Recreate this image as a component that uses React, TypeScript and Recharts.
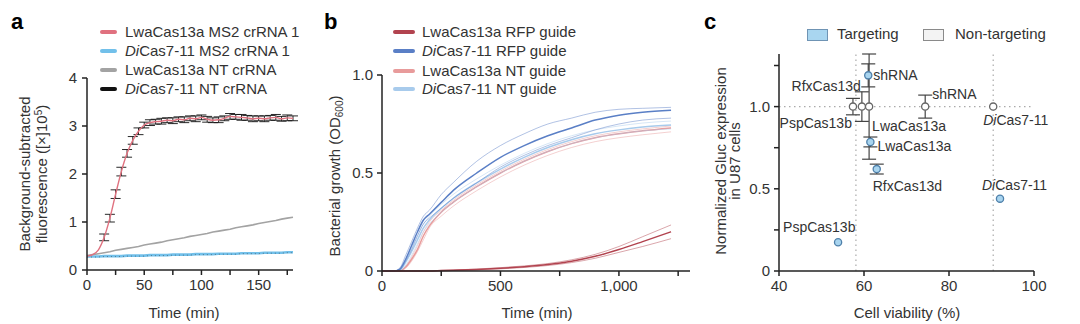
import React from 'react';
import {
  LineChart,
  Line,
  XAxis,
  YAxis,
  ErrorBar,
  ScatterChart,
  Scatter,
  ReferenceLine,
} from 'recharts';

const FONT = '"Liberation Sans", Arial, Helvetica, sans-serif';
const TEXT = '#333';
const AXIS = '#222';

// ---------------- Panel a data ----------------
const timeA = [0, 5, 10, 15, 20, 25, 30, 35, 40, 45, 50, 55, 60, 65, 70, 75, 80, 85, 90, 95, 100, 105, 110, 115, 120, 125, 130, 135, 140, 145, 150, 155, 160, 165, 170, 175, 180];
const namesA = ['LwaCas13a MS2 crRNA 1', 'DiCas7-11 MS2 crRNA 1', 'LwaCas13a NT crRNA', 'DiCas7-11 NT crRNA'];
const lwaMs2A = [0.29, 0.32, 0.42, 0.68, 1.08, 1.58, 2.05, 2.43, 2.7, 2.89, 3.02, 3.07, 3.09, 3.1, 3.12, 3.11, 3.14, 3.13, 3.16, 3.15, 3.18, 3.14, 3.12, 3.13, 3.16, 3.2, 3.19, 3.18, 3.17, 3.15, 3.16, 3.15, 3.17, 3.18, 3.15, 3.17, 3.16];
const lwaMs2ErrA = [0, 0, 0, 0.07, 0.08, 0.09, 0.09, 0.08, 0.08, 0.07, 0.06, 0.06, 0.05, 0.06, 0.05, 0.06, 0.05, 0.06, 0.05, 0.06, 0.05, 0.06, 0.05, 0.06, 0.05, 0.06, 0.05, 0.06, 0.05, 0.06, 0.05, 0.06, 0.05, 0.06, 0.05, 0.06, 0.05];
const diMs2A = [0.28, 0.28, 0.28, 0.29, 0.29, 0.29, 0.29, 0.3, 0.3, 0.3, 0.3, 0.31, 0.31, 0.31, 0.31, 0.32, 0.32, 0.32, 0.32, 0.33, 0.33, 0.33, 0.33, 0.34, 0.34, 0.34, 0.34, 0.35, 0.35, 0.35, 0.35, 0.36, 0.36, 0.36, 0.36, 0.37, 0.37];
const lwaNtA = [0.3, 0.32, 0.34, 0.36, 0.38, 0.41, 0.43, 0.45, 0.47, 0.49, 0.52, 0.54, 0.56, 0.58, 0.61, 0.63, 0.65, 0.67, 0.7, 0.72, 0.74, 0.76, 0.79, 0.81, 0.83, 0.85, 0.88, 0.9, 0.92, 0.94, 0.97, 0.99, 1.01, 1.03, 1.06, 1.08, 1.1];
const diNtA = [0.27, 0.27, 0.27, 0.28, 0.28, 0.28, 0.28, 0.29, 0.29, 0.29, 0.29, 0.3, 0.3, 0.3, 0.3, 0.31, 0.31, 0.31, 0.31, 0.32, 0.32, 0.32, 0.32, 0.33, 0.33, 0.33, 0.33, 0.34, 0.34, 0.34, 0.34, 0.35, 0.35, 0.35, 0.35, 0.36, 0.36];
const xTicksA = [0, 25, 50, 75, 100, 125, 150, 175];
const yTicksA = [0, 1, 2, 3, 4];

// ---------------- Panel b data ----------------
const timeB = [0, 50, 75, 100, 125, 150, 175, 200, 250, 300, 400, 500, 600, 700, 800, 900, 1000, 1100, 1220];
const namesB = ['LwaCas13a RFP guide', 'DiCas7-11 RFP guide', 'LwaCas13a NT guide', 'DiCas7-11 NT guide'];
const diRfpMean = [0, 0, 0.01, 0.06, 0.13, 0.2, 0.26, 0.29, 0.35, 0.41, 0.5, 0.58, 0.64, 0.69, 0.73, 0.77, 0.795, 0.81, 0.82];
const diRfpHi = [0, 0, 0.015, 0.08, 0.15, 0.22, 0.28, 0.31, 0.39, 0.45, 0.56, 0.64, 0.7, 0.75, 0.78, 0.81, 0.825, 0.83, 0.835];
const diRfpLo = [0, 0, 0.005, 0.05, 0.11, 0.18, 0.24, 0.27, 0.32, 0.37, 0.45, 0.53, 0.59, 0.64, 0.68, 0.72, 0.75, 0.77, 0.78];
const diNtMean = [0, 0, 0.005, 0.045, 0.1, 0.16, 0.22, 0.26, 0.32, 0.37, 0.45, 0.52, 0.58, 0.63, 0.67, 0.7, 0.72, 0.735, 0.745];
const diNtHi = [0, 0, 0.01, 0.06, 0.12, 0.18, 0.24, 0.28, 0.34, 0.39, 0.47, 0.54, 0.6, 0.65, 0.69, 0.72, 0.74, 0.755, 0.765];
const diNtLo = [0, 0, 0, 0.03, 0.08, 0.14, 0.2, 0.24, 0.3, 0.35, 0.43, 0.5, 0.56, 0.61, 0.65, 0.68, 0.7, 0.715, 0.725];
const lwaNtMean = [0, 0, 0, 0.02, 0.06, 0.11, 0.18, 0.23, 0.3, 0.35, 0.43, 0.5, 0.56, 0.61, 0.65, 0.68, 0.7, 0.715, 0.73];
const lwaNtHi = [0, 0, 0, 0.025, 0.07, 0.13, 0.2, 0.25, 0.31, 0.36, 0.44, 0.51, 0.57, 0.62, 0.66, 0.69, 0.71, 0.725, 0.74];
const lwaNtLo = [0, 0, 0, 0.015, 0.05, 0.1, 0.16, 0.22, 0.28, 0.33, 0.41, 0.48, 0.54, 0.59, 0.63, 0.66, 0.68, 0.695, 0.71];
const lwaRfpMean = [0, 0, 0, 0, 0, 0, 0, 0, 0.002, 0.004, 0.008, 0.014, 0.022, 0.033, 0.05, 0.075, 0.11, 0.15, 0.2];
const lwaRfpHi = [0, 0, 0, 0, 0, 0, 0, 0, 0.003, 0.005, 0.01, 0.017, 0.026, 0.038, 0.057, 0.085, 0.125, 0.175, 0.235];
const lwaRfpLo = [0, 0, 0, 0, 0, 0, 0, 0, 0.001, 0.003, 0.006, 0.011, 0.018, 0.028, 0.043, 0.065, 0.095, 0.125, 0.165];
const xTicksB = [0, 250, 500, 750, 1000, 1250];
const xLabelsB: Record<number, string> = { 0: '0', 500: '500', 1000: '1,000' };
const yTicksB = [0, 0.5, 1];
const yLabelsB: Record<number, string> = { 0: '0', 0.5: '0.5', 1: '1.0' };

// ---------------- Panel c data ----------------
const targetingIds = ['shT', 'lwaT', 'rfxT', 'diT', 'pspT'];
const targetingNames = ['shRNA', 'LwaCas13a', 'RfxCas13d', 'DiCas7-11', 'PspCas13b'];
const targetingViability = [61.0, 61.5, 63.0, 92.0, 53.9];
const targetingExpression = [1.19, 0.785, 0.62, 0.44, 0.175];
const targetingErr = [0.07, 0.03, 0.03, 0, 0];

const ntIds = ['pspN', 'rfxN', 'lwaN', 'shN', 'diN'];
const ntNames = ['PspCas13b', 'RfxCas13d', 'LwaCas13a', 'shRNA', 'DiCas7-11'];
const ntViability = [57.4, 59.5, 61.2, 74.4, 90.4];
const ntExpression = [1.0, 1.0, 1.0, 1.0, 1.0];
const ntErr = [0.05, 0.09, 0.32, 0.07, 0];

const viabilityGuides = [58.1, 90.4];
const xTicksC = [40, 60, 80, 100];
const yTicksC = [0, 0.25, 0.5, 0.75, 1, 1.25];
const yLabelsC: Record<number, string> = { 0: '0', 0.5: '0.5', 1: '1.0' };

// label placement (pixel offsets from the point)
const labelPlacement: Record<string, { dx: number; dy: number; anchor: 'start' | 'end' | 'middle' }> = {
  shT: { dx: 5, dy: 5, anchor: 'start' },
  lwaT: { dx: 7, dy: 9, anchor: 'start' },
  rfxT: { dx: -4, dy: 22, anchor: 'start' },
  diT: { dx: -18, dy: -9, anchor: 'start' },
  pspT: { dx: -55, dy: -10, anchor: 'start' },
  pspN: { dx: -1, dy: 21, anchor: 'end' },
  rfxN: { dx: -1, dy: -16, anchor: 'end' },
  lwaN: { dx: 3, dy: 24, anchor: 'start' },
  shN: { dx: 7, dy: -8, anchor: 'start' },
  diN: { dx: -10, dy: 18, anchor: 'start' },
};

// ---------------- build tables ----------------
const dataA = timeA.map((t, i) => ({
  t,
  lwaMs2: lwaMs2A[i],
  err: lwaMs2ErrA[i],
  diMs2: diMs2A[i],
  lwaNt: lwaNtA[i],
  diNt: diNtA[i],
}));

const dataB = timeB.map((t, i) => ({
  t,
  diRfpMean: diRfpMean[i], diRfpHi: diRfpHi[i], diRfpLo: diRfpLo[i],
  diNtMean: diNtMean[i], diNtHi: diNtHi[i], diNtLo: diNtLo[i],
  lwaNtMean: lwaNtMean[i], lwaNtHi: lwaNtHi[i], lwaNtLo: lwaNtLo[i],
  lwaRfpMean: lwaRfpMean[i], lwaRfpHi: lwaRfpHi[i], lwaRfpLo: lwaRfpLo[i],
}));

const dataCT = targetingIds.map((id, i) => ({ id, name: targetingNames[i], x: targetingViability[i], y: targetingExpression[i], err: targetingErr[i] }));
const dataCN = ntIds.map((id, i) => ({ id, name: ntNames[i], x: ntViability[i], y: ntExpression[i], err: ntErr[i] }));

// ---------------- styles ----------------
const colA = { lwaMs2: '#e0717f', diMs2: '#72c0ea', lwaNt: '#a3a3a3', diNt: '#111111' };
const colB = { lwaRfp: '#b2434f', diRfp: '#5a7fc6', lwaNt: '#e89b9b', diNt: '#a8cbec' };
const tickStyle = { fill: TEXT, fontSize: 15, fontFamily: FONT };
const axisLine = { stroke: AXIS, strokeWidth: 1.5 };
const tickLine = { stroke: AXIS, strokeWidth: 1.5 };

const DiText = ({ text }: { text: string }) =>
  text.startsWith('Di') ? (
    <>
      <i>Di</i>
      {text.slice(2)}
    </>
  ) : (
    <>{text}</>
  );

const svgName = (text: string) =>
  text.startsWith('Di') ? (
    <>
      <tspan fontStyle="italic">Di</tspan>
      <tspan>{text.slice(2)}</tspan>
    </>
  ) : (
    text
  );

const makeDot = (fill: string, stroke: string) => (props: any) => {
  const { cx, cy, payload } = props;
  if (cx == null || cy == null) return <g />;
  const place = payload ? labelPlacement[payload.id] : undefined;
  return (
    <g>
      <circle cx={cx} cy={cy} r={3.6} fill={fill} stroke={stroke} strokeWidth={1.3} />
      {place && (
        <text x={cx + place.dx} y={cy + place.dy} textAnchor={place.anchor} fontSize={14} fill={TEXT} fontFamily={FONT}>
          {svgName(payload.name)}
        </text>
      )}
    </g>
  );
};

const Abs = ({ left, top, children, style }: any) => (
  <div style={{ position: 'absolute', left, top, whiteSpace: 'nowrap', ...style }}>{children}</div>
);

const Centered = ({ cx, cy, children, rotate = 0, lineHeight = 17 }: any) => (
  <div
    style={{
      position: 'absolute',
      left: cx,
      top: cy,
      transform: `translate(-50%,-50%) rotate(${rotate}deg)`,
      whiteSpace: 'nowrap',
      textAlign: 'center',
      fontSize: 15,
      lineHeight: `${lineHeight}px`,
      color: TEXT,
    }}
  >
    {children}
  </div>
);

const LegendRow = ({ x, textX, y, color, swatchW, label }: any) => (
  <>
    <div style={{ position: 'absolute', left: x, top: y - 2, width: swatchW, height: 4, background: color, borderRadius: 2 }} />
    <div style={{ position: 'absolute', left: textX, top: y - 9, fontSize: 15, lineHeight: '18px', color: TEXT, whiteSpace: 'nowrap' }}>
      <DiText text={label} />
    </div>
  </>
);

const PanelLetter = ({ left, ch }: any) => (
  <div style={{ position: 'absolute', left, top: 11, fontSize: 22, lineHeight: '22px', fontWeight: 'bold', color: '#000' }}>{ch}</div>
);

export default function App() {
  const legendAY = [32, 51, 70, 89];
  const legendAColors = [colA.lwaMs2, colA.diMs2, colA.lwaNt, colA.diNt];
  const legendBY = [32, 51, 71, 89];
  const legendBColors = [colB.lwaRfp, colB.diRfp, colB.lwaNt, colB.diNt];

  return (
    <div style={{ position: 'absolute', left: 0, top: 0, width: 1080, height: 324, background: '#fff', fontFamily: FONT, color: TEXT, overflow: 'hidden' }}>
      {/* ---------- Panel a ---------- */}
      <div style={{ position: 'absolute', left: 0, top: 0 }}>
        <LineChart width={300} height={324} data={dataA} margin={{ top: 78, right: 7, bottom: 24, left: 37 }}>
          <XAxis
            type="number"
            dataKey="t"
            domain={[0, 180]}
            ticks={xTicksA}
            interval={0}
            tickFormatter={(v: number) => (v % 50 === 0 ? String(v) : '')}
            height={30}
            axisLine={axisLine}
            tickLine={tickLine}
            tickSize={5}
            tickMargin={4}
            tick={tickStyle}
          />
          <YAxis
            type="number"
            domain={[0, 4]}
            ticks={yTicksA}
            interval={0}
            width={50}
            axisLine={axisLine}
            tickLine={tickLine}
            tickSize={5}
            tickMargin={5}
            tick={tickStyle}
          />
          <Line dataKey="lwaNt" stroke={colA.lwaNt} strokeWidth={1.6} dot={false} activeDot={false} isAnimationActive={false} type="linear" />
          <Line dataKey="diMs2" stroke={colA.diMs2} strokeWidth={2.6} dot={false} activeDot={false} isAnimationActive={false} type="linear" />
          <Line dataKey="diNt" stroke={colA.diNt} strokeWidth={0.8} strokeOpacity={0.5} strokeDasharray="1 3" dot={false} activeDot={false} isAnimationActive={false} type="linear" />
          <Line dataKey="lwaMs2" stroke={colA.lwaMs2} strokeWidth={1.4} dot={false} activeDot={false} isAnimationActive={false} type="monotone">
            <ErrorBar dataKey="err" direction="y" width={5} stroke="#111" strokeWidth={0.9} />
          </Line>
        </LineChart>
      </div>
      <PanelLetter left={11} ch="a" />
      {namesA.map((n, i) => (
        <LegendRow key={n} x={100} textX={125} y={legendAY[i]} color={legendAColors[i]} swatchW={17} label={n} />
      ))}
      <Centered cx={33} cy={174} rotate={-90}>
        <div>Background-subtracted</div>
        <div>
          fluorescence ([×]10<sup style={{ fontSize: 10, verticalAlign: '5px', lineHeight: 0 }}>5</sup>)
        </div>
      </Centered>
      <Centered cx={184} cy={312}>Time (min)</Centered>

      {/* ---------- Panel b ---------- */}
      <div style={{ position: 'absolute', left: 340, top: 0 }}>
        <LineChart width={360} height={324} data={dataB} margin={{ top: 75, right: 10, bottom: 23, left: 2 }}>
          <XAxis
            type="number"
            dataKey="t"
            domain={[0, 1300]}
            ticks={xTicksB}
            interval={0}
            tickFormatter={(v: number) => xLabelsB[v] ?? ''}
            height={30}
            axisLine={axisLine}
            tickLine={tickLine}
            tickSize={5}
            tickMargin={4}
            tick={tickStyle}
          />
          <YAxis
            type="number"
            domain={[0, 1]}
            ticks={yTicksB}
            interval={0}
            tickFormatter={(v: number) => yLabelsB[v] ?? ''}
            width={40}
            axisLine={axisLine}
            tickLine={tickLine}
            tickSize={5}
            tickMargin={4}
            tick={tickStyle}
          />
          {[
            ['lwaNt', colB.lwaNt],
            ['diNt', colB.diNt],
            ['diRfp', colB.diRfp],
            ['lwaRfp', colB.lwaRfp],
          ].map(([k, c]) => [
            <Line key={k + 'Hi'} dataKey={k + 'Hi'} stroke={c} strokeWidth={0.8} strokeOpacity={0.6} dot={false} activeDot={false} isAnimationActive={false} type="monotone" />,
            <Line key={k + 'Lo'} dataKey={k + 'Lo'} stroke={c} strokeWidth={0.8} strokeOpacity={0.6} dot={false} activeDot={false} isAnimationActive={false} type="monotone" />,
            <Line key={k + 'Mean'} dataKey={k + 'Mean'} stroke={c} strokeWidth={1.5} dot={false} activeDot={false} isAnimationActive={false} type="monotone" />,
          ])}
        </LineChart>
      </div>
      <PanelLetter left={324} ch="b" />
      {namesB.map((n, i) => (
        <LegendRow key={n} x={393} textX={422} y={legendBY[i]} color={legendBColors[i]} swatchW={22} label={n} />
      ))}
      <Centered cx={334} cy={176} rotate={-90}>
        Bacterial growth (OD<sub style={{ fontSize: 10, verticalAlign: '-3px', lineHeight: 0 }}>600</sub>)
      </Centered>
      <Centered cx={537} cy={312}>Time (min)</Centered>

      {/* ---------- Panel c ---------- */}
      <div style={{ position: 'absolute', left: 700, top: 0 }}>
        <ScatterChart width={380} height={324} margin={{ top: 54, right: 46, bottom: 23, left: 39 }}>
          <XAxis
            type="number"
            dataKey="x"
            domain={[40, 100]}
            ticks={xTicksC}
            interval={0}
            height={30}
            axisLine={axisLine}
            tickLine={tickLine}
            tickSize={5}
            tickMargin={4}
            tick={tickStyle}
          />
          <YAxis
            type="number"
            dataKey="y"
            domain={[0, 1.3]}
            ticks={yTicksC}
            interval={0}
            tickFormatter={(v: number) => yLabelsC[v] ?? ''}
            width={40}
            axisLine={axisLine}
            tickLine={tickLine}
            tickSize={5}
            tickMargin={4}
            tick={tickStyle}
          />
          {viabilityGuides.map((v) => (
            <ReferenceLine key={v} x={v} stroke="#aaa" strokeWidth={1.2} strokeDasharray="1.5 3.5" />
          ))}
          <ReferenceLine y={1} stroke="#aaa" strokeWidth={1.2} strokeDasharray="1.5 3.5" />
          <Scatter data={dataCN} isAnimationActive={false} shape={makeDot('#ffffff', '#666')}>
            <ErrorBar dataKey="err" direction="y" width={7} stroke="#444" strokeWidth={1.2} />
          </Scatter>
          <Scatter data={dataCT} isAnimationActive={false} shape={makeDot('#a8d4ef', '#4f80aa')}>
            <ErrorBar dataKey="err" direction="y" width={7} stroke="#444" strokeWidth={1.2} />
          </Scatter>
        </ScatterChart>
      </div>
      <PanelLetter left={704} ch="c" />
      <div style={{ position: 'absolute', left: 807, top: 29, width: 19, height: 10, background: '#a9d6f0', border: '1px solid #6f94b4' }} />
      <Abs left={837} top={25} style={{ fontSize: 15, lineHeight: '18px' }}>Targeting</Abs>
      <div style={{ position: 'absolute', left: 923, top: 29, width: 19, height: 10, background: '#f3f3f3', border: '1px solid #8a8a8a' }} />
      <Abs left={955} top={25} style={{ fontSize: 15, lineHeight: '18px' }}>Non-targeting</Abs>
      <Centered cx={728} cy={161} rotate={-90} lineHeight={14}>
        <div>Normalized Gluc expression</div>
        <div>in U87 cells</div>
      </Centered>
      <Centered cx={907} cy={312}>Cell viability (%)</Centered>
    </div>
  );
}
